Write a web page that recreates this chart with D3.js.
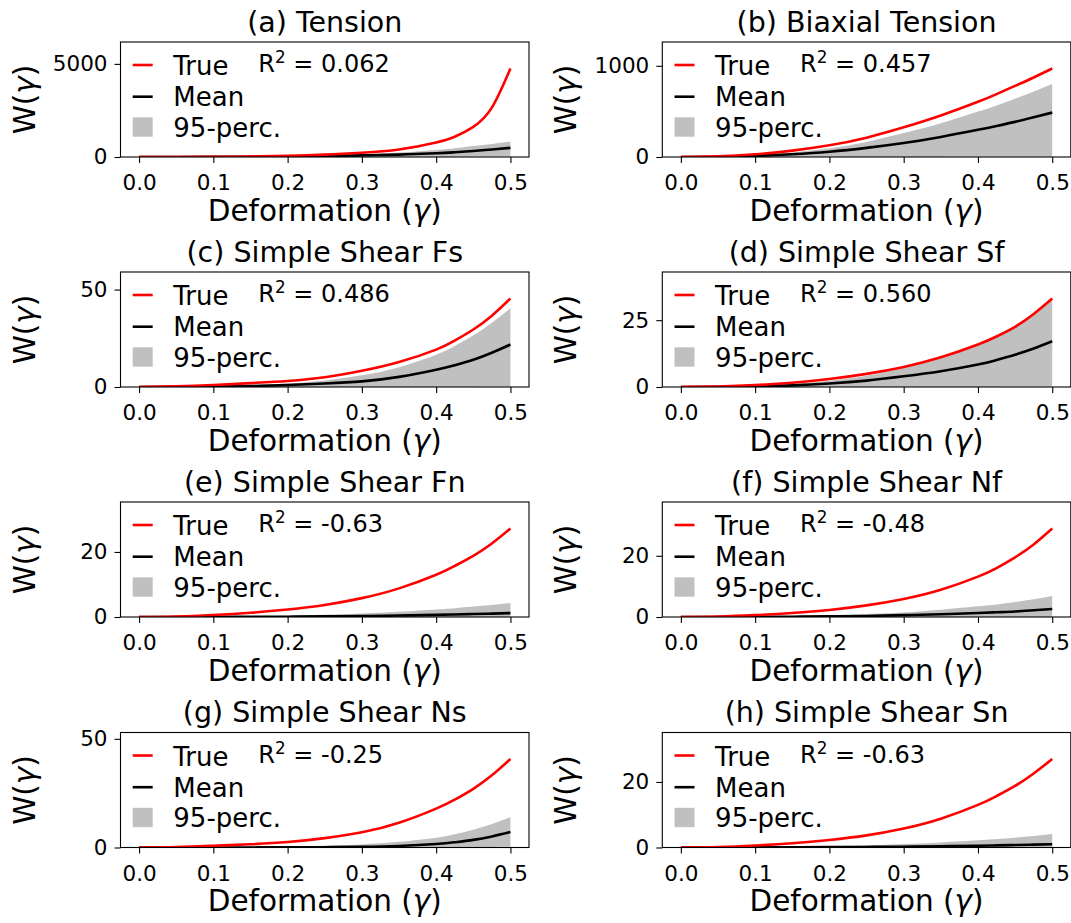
<!DOCTYPE html>
<html>
<head>
<meta charset="utf-8">
<script src="https://cdn.jsdelivr.net/npm/d3@7"></script>
<style>
  body { margin: 0; background: #fff; }
  svg { display: block; font-family: "DejaVu Sans", sans-serif; }
</style>
</head>
<body>
<svg id="chart" width="1071" height="923"></svg>
<script>
// Deformation grid shared by every panel
const gamma = [0, 0.05, 0.1, 0.15, 0.2, 0.25, 0.3, 0.35, 0.4, 0.425, 0.45, 0.475, 0.5];

const panelTitles = [
  "(a) Tension", "(b) Biaxial Tension",
  "(c) Simple Shear Fs", "(d) Simple Shear Sf",
  "(e) Simple Shear Fn", "(f) Simple Shear Nf",
  "(g) Simple Shear Ns", "(h) Simple Shear Sn"
];

const r2Values = ["0.062", "0.457", "0.486", "0.560", "-0.63", "-0.48", "-0.25", "-0.63"];

const xTickValues = [0, 0.1, 0.2, 0.3, 0.4, 0.5];
const yTickValues = [[0, 5000], [0, 1000], [0, 50], [0, 25], [0, 20], [0, 20], [0, 50], [0, 20]];

// True strain energy W(gamma) per load case
const trueCurves = [
  [0, 2, 10, 28, 62, 125, 225, 400, 780, 1090, 1620, 2650, 4750],
  [0, 7, 30, 70, 128, 212, 325, 455, 605, 690, 780, 872, 970],
  [0, 0.3, 1.0, 2.0, 3.1, 5.0, 8.3, 12.8, 19.2, 23.8, 29.5, 36.6, 45.4],
  [0, 0.2, 0.7, 1.6, 3.0, 4.9, 7.5, 11.1, 15.9, 18.9, 22.5, 27.3, 33.1],
  [0, 0.15, 0.6, 1.3, 2.3, 3.7, 5.8, 8.8, 13.0, 15.7, 18.8, 22.6, 27.2],
  [0, 0.15, 0.6, 1.3, 2.3, 3.8, 5.9, 8.9, 13.2, 16.0, 19.5, 23.7, 28.9],
  [0, 0.2, 0.8, 1.5, 2.5, 4.3, 7.0, 11.4, 17.9, 22.0, 27.0, 33.2, 40.7],
  [0, 0.15, 0.6, 1.3, 2.3, 3.7, 5.8, 8.8, 13.0, 15.7, 18.8, 22.6, 27.0]
];

// Posterior mean prediction
const meanCurves = [
  [0, 1, 5, 13, 28, 50, 85, 130, 200, 255, 320, 400, 490],
  [0, 3, 12, 30, 58, 100, 153, 220, 298, 340, 385, 435, 487],
  [0, 0.05, 0.2, 0.5, 1.0, 1.8, 2.9, 5.2, 8.9, 11.2, 14.0, 17.6, 21.8],
  [0, 0.05, 0.2, 0.6, 1.3, 2.4, 4.0, 5.9, 8.4, 10.1, 12.1, 14.4, 17.1],
  [0, 0.01, 0.03, 0.06, 0.1, 0.18, 0.3, 0.45, 0.65, 0.78, 0.9, 1.05, 1.2],
  [0, 0.01, 0.04, 0.1, 0.2, 0.35, 0.6, 0.9, 1.3, 1.55, 1.8, 2.2, 2.6],
  [0, 0, 0.01, 0.03, 0.06, 0.14, 0.3, 0.7, 1.6, 2.4, 3.5, 5.1, 7.1],
  [0, 0.01, 0.03, 0.06, 0.1, 0.16, 0.25, 0.38, 0.55, 0.65, 0.75, 0.88, 1.0]
];

// 95-percentile band: upper and lower bounds
const upperBands = [
  [0, 2, 8, 22, 48, 90, 150, 240, 380, 470, 590, 700, 830],
  [0, 5, 22, 50, 95, 165, 262, 370, 498, 566, 640, 718, 800],
  [0, 0.1, 0.4, 0.9, 1.8, 3.4, 6.0, 10.2, 16.6, 21.0, 26.5, 33.0, 40.5],
  [0, 0.1, 0.4, 1.1, 2.3, 4.2, 7.2, 11.2, 16.3, 19.4, 23.0, 27.6, 33.2],
  [0, 0.02, 0.08, 0.2, 0.4, 0.7, 1.1, 1.6, 2.3, 2.7, 3.2, 3.7, 4.3],
  [0, 0.03, 0.12, 0.3, 0.6, 1.0, 1.5, 2.4, 3.5, 4.1, 4.9, 5.8, 6.9],
  [0, 0.02, 0.08, 0.2, 0.4, 0.8, 1.4, 2.6, 4.5, 6.1, 8.2, 10.8, 14.0],
  [0, 0.02, 0.08, 0.2, 0.4, 0.68, 1.05, 1.55, 2.2, 2.6, 3.0, 3.5, 4.1]
];
const lowerBands = [
  [0, 0, 0, 1, 2, 4, 6, 9, 14, 17, 21, 26, 32],
  [0, 0, 0, 0, 0, 1, 1, 1, 2, 2, 2, 3, 3],
  [0, 0, 0, 0, 0, 0, 0.01, 0.02, 0.04, 0.05, 0.06, 0.08, 0.1],
  [0, 0, 0, 0, 0, 0, 0.01, 0.02, 0.03, 0.04, 0.05, 0.06, 0.07],
  [0, 0, 0, 0, 0, 0, 0, 0.01, 0.01, 0.01, 0.02, 0.02, 0.02],
  [0, 0, 0, 0, 0, 0, 0.01, 0.01, 0.02, 0.02, 0.03, 0.03, 0.04],
  [0, 0, 0, 0, 0, 0, 0.01, 0.03, 0.07, 0.1, 0.15, 0.22, 0.3],
  [0, 0, 0, 0, 0, 0, 0, 0.01, 0.01, 0.01, 0.02, 0.02, 0.02]
];

const legendLabels = ["True", "Mean", "95-perc."];

// ---- layout ----
const colLeft = [120.5, 662.3];
const rowTop = [42, 272, 502, 732.5];
const axW = 408.5, axH = 115;
const tickLen = 6;
const fs = { tick: 21.5, label: 29.5, title: 28.5, legend: 26, r2: 24 };
const bandColor = "#c0c0c0";
const lineWidth = 2.6;
const smooth = d3.curveNatural;

const svg = d3.select("#chart");

panelTitles.forEach((title, i) => {
  const col = i % 2, row = Math.floor(i / 2);
  const g = svg.append("g").attr("transform", `translate(${colLeft[col]},${rowTop[row]})`);

  const x = d3.scaleLinear().domain([-0.025, 0.525]).range([0, axW]);
  const y = d3.scaleLinear().domain([0, 1.3 * d3.max(trueCurves[i])]).range([axH, 0]);

  const clipId = "clip" + i;
  g.append("clipPath").attr("id", clipId)
    .append("rect").attr("width", axW).attr("height", axH);

  const plot = g.append("g").attr("clip-path", `url(#${clipId})`);
  const rows = gamma.map((v, k) => ({
    x: v, t: trueCurves[i][k], m: meanCurves[i][k], lo: lowerBands[i][k], hi: upperBands[i][k]
  }));

  plot.append("path").datum(rows)
    .attr("fill", bandColor)
    .attr("d", d3.area().curve(smooth)
      .x(d => x(d.x)).y0(d => y(d.lo)).y1(d => y(d.hi)));

  plot.append("path").datum(rows)
    .attr("fill", "none").attr("stroke", "#000").attr("stroke-width", lineWidth)
    .attr("d", d3.line().curve(smooth).x(d => x(d.x)).y(d => y(d.m)));

  plot.append("path").datum(rows)
    .attr("fill", "none").attr("stroke", "#ff0000").attr("stroke-width", lineWidth)
    .attr("d", d3.line().curve(smooth).x(d => x(d.x)).y(d => y(d.t)));

  // x axis
  const xa = g.append("g").attr("transform", `translate(0,${axH})`)
    .call(d3.axisBottom(x).tickValues(xTickValues).tickFormat(d3.format(".1f"))
      .tickSize(tickLen).tickSizeOuter(0));
  xa.select(".domain").remove();
  xa.selectAll(".tick line").attr("stroke", "#000").attr("stroke-width", 1.1);
  xa.selectAll(".tick text").attr("fill", "#000").attr("font-size", fs.tick)
    .attr("font-family", "DejaVu Sans").attr("y", 33).attr("dy", null);

  // y axis
  const ya = g.append("g")
    .call(d3.axisLeft(y).tickValues(yTickValues[i]).tickFormat(d3.format("d"))
      .tickSize(tickLen).tickSizeOuter(0).tickPadding(7));
  ya.select(".domain").remove();
  ya.selectAll(".tick line").attr("stroke", "#000").attr("stroke-width", 1.1);
  ya.selectAll(".tick text").attr("fill", "#000").attr("font-size", fs.tick)
    .attr("font-family", "DejaVu Sans");

  // frame
  g.append("rect").attr("width", axW).attr("height", axH)
    .attr("fill", "none").attr("stroke", "#000").attr("stroke-width", 1.1);

  // title
  g.append("text").attr("x", axW / 2).attr("y", -10.5)
    .attr("text-anchor", "middle").attr("font-size", fs.title).text(title);

  // x label
  const xl = g.append("text").attr("x", axW / 2).attr("y", axH + 63.7)
    .attr("text-anchor", "middle").attr("font-size", fs.label);
  xl.append("tspan").text("Deformation (");
  xl.append("tspan").attr("font-style", "italic").text("γ");
  xl.append("tspan").text(")");

  // y label
  const yl = g.append("text")
    .attr("transform", `translate(-86,${axH / 2}) rotate(-90)`)
    .attr("text-anchor", "middle").attr("font-size", fs.label);
  yl.append("tspan").text("W(");
  yl.append("tspan").attr("font-style", "italic").text("γ");
  yl.append("tspan").text(")");

  // legend
  const lg = g.append("g");
  const handleX0 = 12.2, handleX1 = 32.2, textX = 52.8;
  [23, 54.7].forEach((hy, k) => {
    lg.append("line").attr("x1", handleX0).attr("x2", handleX1)
      .attr("y1", hy).attr("y2", hy)
      .attr("stroke", k === 0 ? "#ff0000" : "#000").attr("stroke-width", lineWidth);
  });
  lg.append("rect").attr("x", handleX0).attr("y", 75.3)
    .attr("width", handleX1 - handleX0).attr("height", 19.4).attr("fill", bandColor);
  [33, 64, 94.7].forEach((by, k) => {
    lg.append("text").attr("x", textX).attr("y", by)
      .attr("font-size", fs.legend).text(legendLabels[k]);
  });

  // R^2 annotation
  const rt = g.append("text").attr("x", 137.8).attr("y", 30.3).attr("font-size", fs.r2);
  rt.append("tspan").text("R");
  rt.append("tspan").attr("font-size", fs.r2 * 0.7).attr("dy", -9).text("2");
  rt.append("tspan").attr("dy", 9).text(" = " + r2Values[i]);
});
</script>
</body>
</html>
